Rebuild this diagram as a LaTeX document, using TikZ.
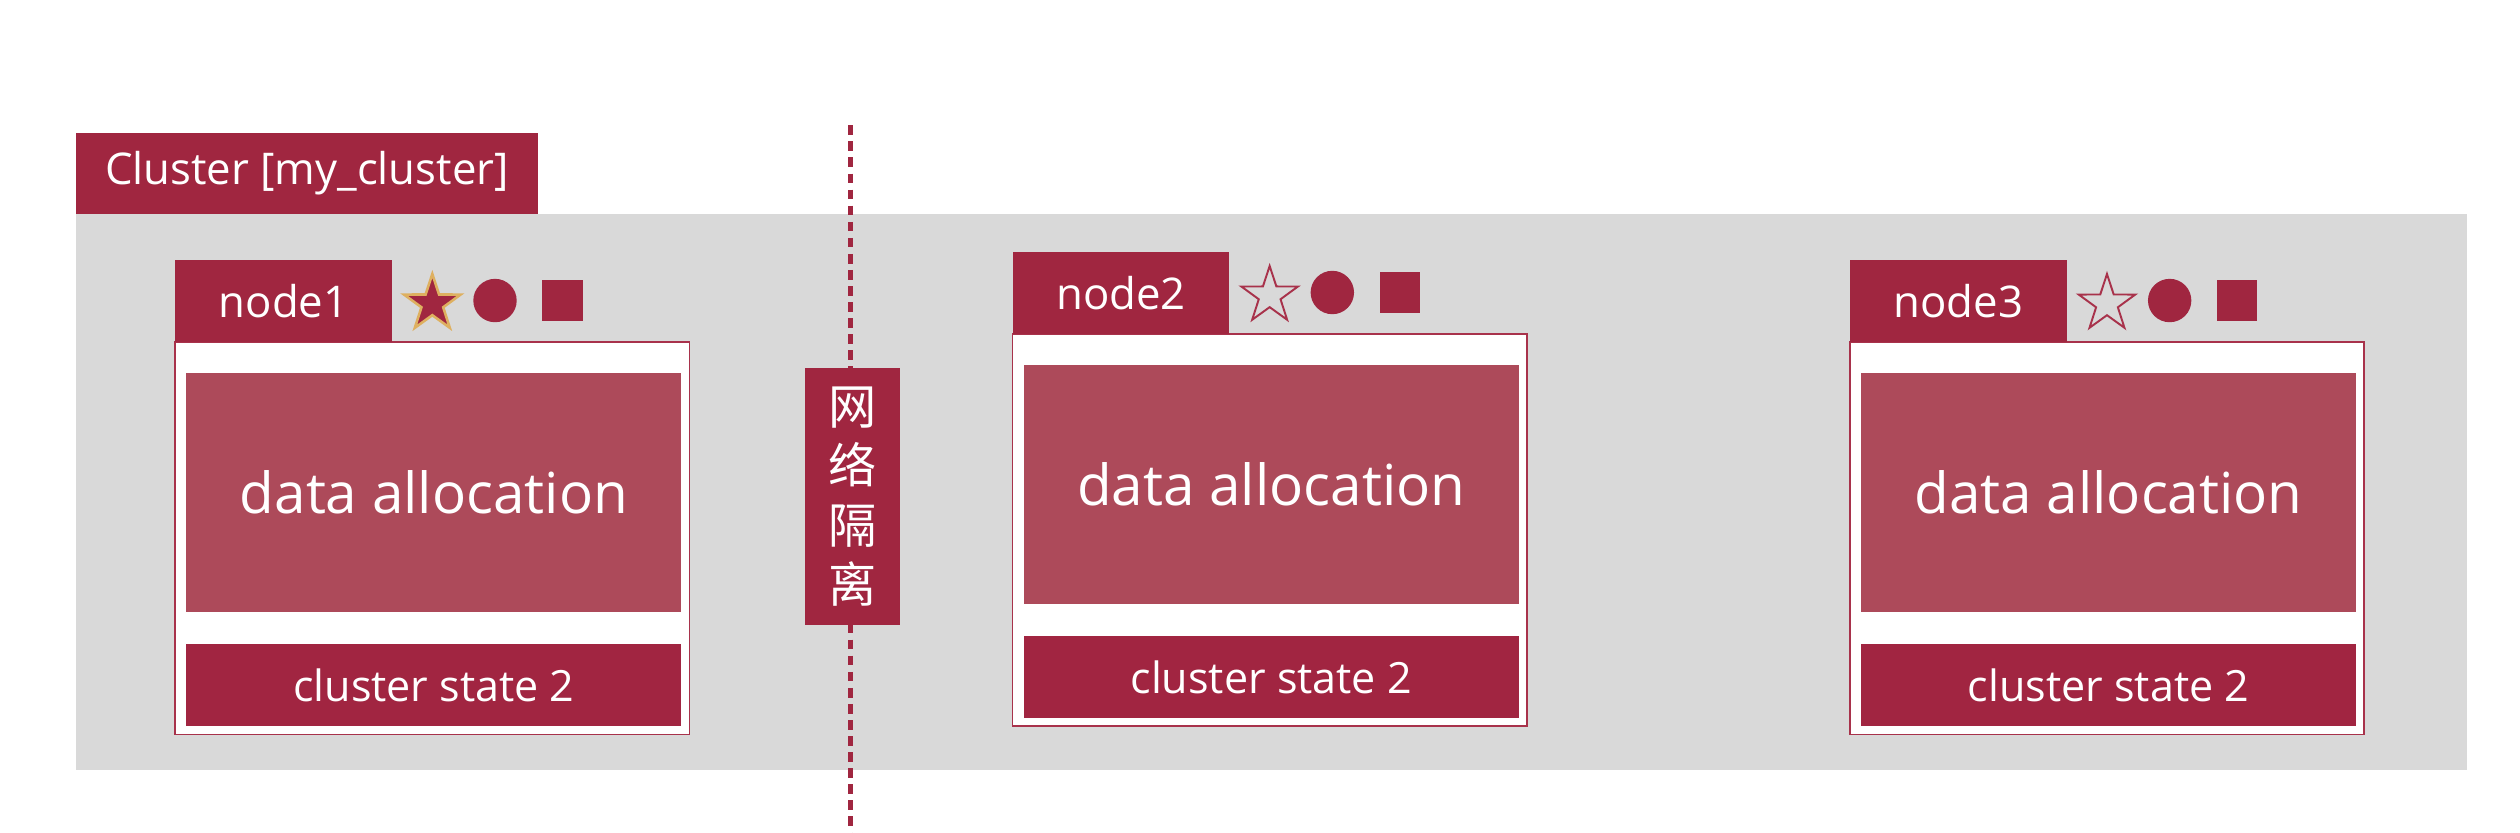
\documentclass[tikz,border=0pt]{standalone}
\usepackage{fontspec}
\setmainfont{Open Sans}
\newfontfamily\cjkfont{Noto Sans CJK SC}
\usetikzlibrary{shapes.geometric}
\definecolor{tabred}{RGB}{160,38,64}
\definecolor{datared}{RGB}{173,74,90}
\definecolor{statered}{RGB}{161,37,65}
\definecolor{bggray}{RGB}{217,217,217}
\definecolor{edgered}{RGB}{168,50,75}
\definecolor{starglow}{RGB}{222,176,96}
\tikzset{
  nbox/.style={inner sep=0pt, outer sep=0pt, anchor=north west},
  tabbox/.style={nbox, fill=tabred, text=white, minimum width=67.5pt, minimum height=25.5pt, font=\fontsize{13.6}{16}\selectfont},
  outerbox/.style={nbox, fill=white, draw=edgered, line width=0.6pt, minimum width=160pt, minimum height=122pt},
  databox/.style={nbox, fill=datared, text=white, minimum width=154pt, minimum height=74.5pt, font=\fontsize{17.6}{21}\selectfont},
  statebox/.style={nbox, fill=statered, text=white, minimum width=154pt, minimum height=25.5pt, font=\fontsize{13.4}{16}\selectfont},
  iconshape/.style={inner sep=0pt, outer sep=0pt},
  fullstar/.style={iconshape, star, star points=5, star point ratio=2.6, minimum size=18.5pt, fill=tabred, draw=starglow, line width=0.8pt},
  emptystar/.style={iconshape, star, star points=5, star point ratio=2.6, minimum size=18.5pt, draw=edgered, line width=0.6pt},
  icondot/.style={iconshape, circle, fill=tabred, minimum size=13.5pt},
  iconsq/.style={iconshape, rectangle, fill=tabred, minimum size=12.5pt},
  sepline/.style={draw=tabred, line width=1.5pt, dash pattern=on 3pt off 2pt},
}
\newcommand\servernode[5]{%
  \node[outerbox] (#1box) at (#2,#3) {};
  \node[tabbox] (#1tab) at (#2,#3-51) {#4};
  \node[databox] (#1data) at (#2+7,#3+19) {data allocation};
  \node[statebox] (#1state) at (#2+7,#3+188) {cluster state 2};
  \node[#5] (#1star) at (#2+160,#3-24) {};
  \node[icondot] (#1dot) at (#2+199,#3-26) {};
  \node[iconsq] (#1sq) at (#2+241,#3-26) {};
}
\begin{document}
\begin{tikzpicture}[x=0.5pt,y=-0.5pt]
  \path[fill=white, use as bounding box] (0,0) rectangle (1568,518);
  \node[nbox, fill=bggray, minimum width=744pt, minimum height=173pt] (clusterbg) at (47,133) {};
  \coordinate (septop) at (529,78);
  \coordinate (sepbot) at (529,518);
  \draw[sepline] (septop) -- (sepbot);
  \node[nbox, fill=tabred, text=white, minimum width=144pt, minimum height=25pt, font=\fontsize{13.6}{16}\selectfont] (clusterlabel) at (47,83) {Cluster [my\_cluster]};
  \node[nbox, fill=tabred, text=white, minimum width=29.5pt, minimum height=80pt, align=center, font=\cjkfont\fontsize{15}{18.5}\selectfont] (isolation) at (501,229) {网\\络\\隔\\离};
  \servernode{n1}{109}{213}{node1}{fullstar}
  \servernode{n2}{630}{208}{node2}{emptystar}
  \servernode{n3}{1151}{213}{node3}{emptystar}
\end{tikzpicture}
\end{document}
